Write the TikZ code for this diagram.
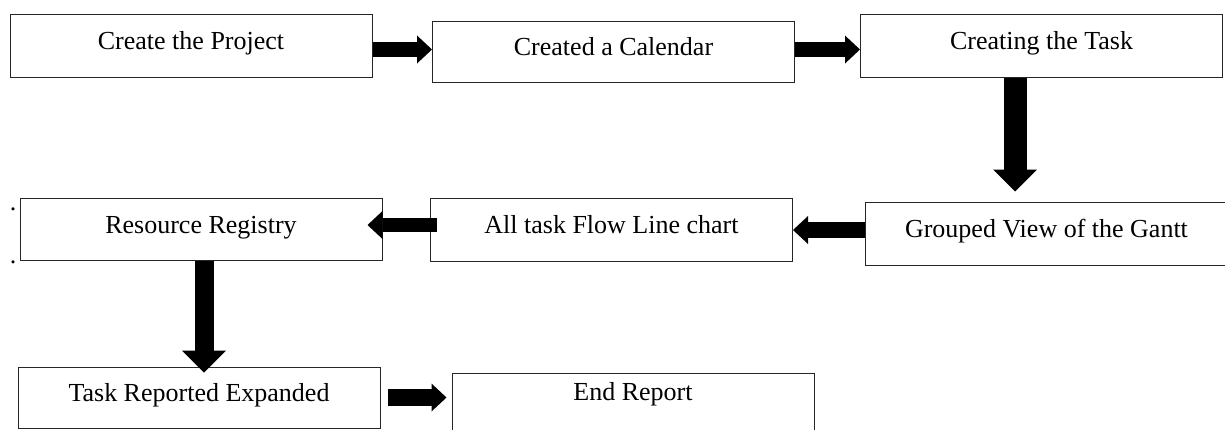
\documentclass[tikz,border=0pt]{standalone}
\usepackage{fontspec}
\setmainfont{Liberation Serif}
\usetikzlibrary{arrows.meta}

\begin{document}
\begin{tikzpicture}[
    x = 1pt, y = -1pt,
    every node/.style = {font=\fontsize{26}{30}\selectfont},
    box/.style = {
        rectangle,
        draw = black!85,
        line width = 1pt,
        inner sep = 0pt,
        minimum width = 362pt,
        minimum height = 63pt,
        text height = 18pt,
        text depth = 10pt
    },
    harrow/.style = {
        -{Triangle[length=15pt, width=28pt, line width=0pt]},
        line width = 15pt
    },
    varrow/.style = {
        -{Triangle[length=22pt, width=44pt, line width=0pt]},
        line width = 21pt
    }
]
\useasboundingbox (0,0) rectangle (1225,429);

\node[box] (create) at (191,45.5) {Create the Project};
\node[box, minimum height=61pt] (calendar) at (613.5,51.5) {Created a Calendar};
\node[box] (task) at (1041.5,45.5) {Creating the Task};
\node[box] (gantt) at (1046.5,233.5) {Grouped View of the Gantt};
\node[box] (flow) at (611.5,229.5) {All task Flow Line chart};
\node[box, minimum height=62pt] (registry) at (201,229) {Resource Registry};
\node[box, minimum height=61pt] (expanded) at (199,397.5) {Task Reported Expanded};
\node[box, text depth=26pt] (endrep) at (633,404.5) {End Report};

% stray marks left of the registry box
\node[anchor=base, inner sep=0pt] (dotA) at (13,210.5) {.};
\node[anchor=base, inner sep=0pt] (dotB) at (13,263.5) {.};

\draw[harrow] ([yshift=-4pt]create.east) -- ([yshift=-4pt]create.east -| calendar.west);
\draw[harrow] ([yshift=2pt]calendar.east) -- ([yshift=2pt]calendar.east -| task.west);
\draw[varrow, line width=23pt, shorten >=10pt] ([xshift=-26.5pt]task.south) -- ([xshift=-26.5pt]task.south |- gantt.north);
\draw[harrow, line width=16pt] ([yshift=3.5pt]gantt.west) -- ([yshift=3.5pt]gantt.west -| flow.east);
\draw[harrow, line width=14pt, shorten <=-7pt, shorten >=-15pt] ([yshift=4.5pt]flow.west) -- ([yshift=4.5pt]flow.west -| registry.east);
\draw[varrow, line width=19pt, shorten >=-6pt] ([xshift=3pt]registry.south) -- ([xshift=3pt]registry.south |- expanded.north);
\draw[harrow, line width=17pt, shorten <=7pt, shorten >=5pt] (expanded.east) -- (expanded.east -| endrep.west);

\end{tikzpicture}
\end{document}
